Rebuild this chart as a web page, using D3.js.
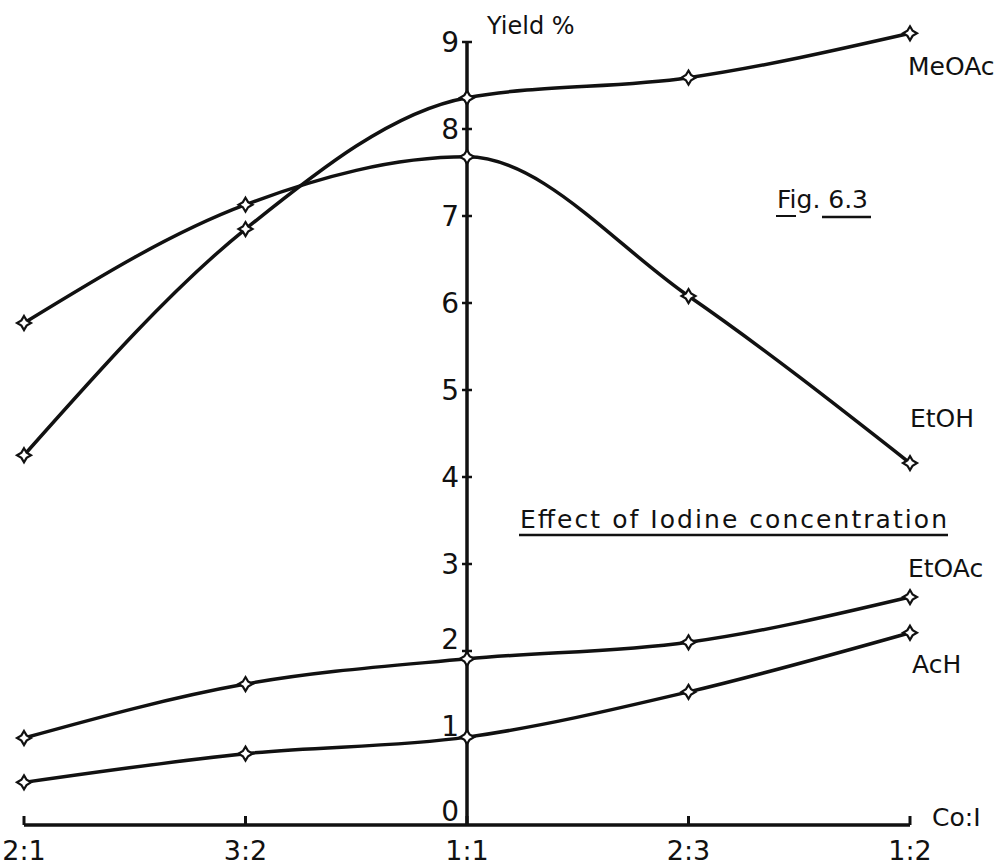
<!DOCTYPE html>
<meta charset="utf-8">
<style>
  body { margin: 0; background: #fff; }
  svg text { font-family: "DejaVu Sans", sans-serif; fill: #111; }
</style>
<body>
<script src="https://cdn.jsdelivr.net/npm/d3@7"></script>
<script>
// data
var ratios = ["2:1", "3:2", "1:1", "2:3", "1:2"];
var meoac = [4.25, 6.85, 8.36, 8.59, 9.10];
var etoh  = [5.77, 7.13, 7.68, 6.08, 4.16];
var etoac = [1.00, 1.62, 1.91, 2.10, 2.62];
var ach   = [0.49, 0.82, 1.01, 1.53, 2.21];
var yTicks = [0, 1, 2, 3, 4, 5, 6, 7, 8, 9];

var series = [
  {name: "MeOAc", values: meoac, lx: 908, ly: 75},
  {name: "EtOH",  values: etoh,  lx: 910, ly: 427},
  {name: "EtOAc", values: etoac, lx: 908, ly: 577},
  {name: "AcH",   values: ach,   lx: 912, ly: 673}
];

var width = 1004, height = 865;

var svg = d3.select("body").append("svg")
    .attr("width", width)
    .attr("height", height);

// scales
var x = d3.scalePoint().domain(ratios).range([24, 910]);
var y = d3.scaleLinear().domain([0, 9]).range([825, 42]);
var x0 = x("1:1");

// x axis (baseline with small upward ticks)
svg.append("line")
    .attr("x1", x("2:1")).attr("x2", x("1:2"))
    .attr("y1", y(0)).attr("y2", y(0))
    .attr("stroke", "#111").attr("stroke-width", 3.5);

svg.selectAll(".xtick")
    .data(ratios)
  .enter().append("line")
    .attr("x1", function(d) { return x(d); })
    .attr("x2", function(d) { return x(d); })
    .attr("y1", y(0)).attr("y2", y(0) - 9)
    .attr("stroke", "#111").attr("stroke-width", 3);

svg.selectAll(".xlabel")
    .data(ratios)
  .enter().append("text")
    .attr("x", function(d) { return x(d); })
    .attr("y", 860)
    .attr("text-anchor", "middle")
    .attr("font-size", 27)
    .text(function(d) { return d; });

svg.append("text")
    .attr("x", 932).attr("y", 826)
    .attr("font-size", 25)
    .text("Co:I");

// y axis drawn through the 1:1 column
svg.append("line")
    .attr("x1", x0).attr("x2", x0)
    .attr("y1", y(9)).attr("y2", y(0))
    .attr("stroke", "#111").attr("stroke-width", 3.5);

svg.selectAll(".ytick")
    .data(yTicks.slice(1))
  .enter().append("line")
    .attr("x1", x0 - 5).attr("x2", x0 + 5)
    .attr("y1", function(d) { return y(d); })
    .attr("y2", function(d) { return y(d); })
    .attr("stroke", "#111").attr("stroke-width", 2.5);

svg.selectAll(".ylabel")
    .data(yTicks)
  .enter().append("text")
    .attr("x", x0 - 8)
    .attr("y", function(d) {
      if (d === 0) return y(0) - 4;
      if (d <= 2) return y(d) - 2;
      return y(d) + 10;
    })
    .attr("text-anchor", "end")
    .attr("font-size", 28)
    .text(function(d) { return d; });

svg.append("text")
    .attr("x", 487).attr("y", 34)
    .attr("font-size", 24)
    .text("Yield %");

// curves
var line = d3.line()
    .x(function(d, i) { return x(ratios[i]); })
    .y(function(d) { return y(d); })
    .curve(d3.curveMonotoneX);

svg.selectAll(".curve")
    .data(series)
  .enter().append("path")
    .attr("d", function(s) { return line(s.values); })
    .attr("fill", "none")
    .attr("stroke", "#111")
    .attr("stroke-width", 3.5);

// four point star markers
var r = 7, a = 2.6;
var star = "M0," + (-r) + "L" + a + "," + (-a) + "L" + r + ",0L" + a + "," + a +
           "L0," + r + "L" + (-a) + "," + a + "L" + (-r) + ",0L" + (-a) + "," + (-a) + "Z";

series.forEach(function(s) {
  svg.selectAll(null)
      .data(s.values)
    .enter().append("path")
      .attr("d", star)
      .attr("transform", function(d, i) { return "translate(" + x(ratios[i]) + "," + y(d) + ")"; })
      .attr("fill", "#fff")
      .attr("stroke", "#111")
      .attr("stroke-width", 2.2);
});

// series names
svg.selectAll(".sname")
    .data(series)
  .enter().append("text")
    .attr("x", function(s) { return s.lx; })
    .attr("y", function(s) { return s.ly; })
    .attr("font-size", 25)
    .text(function(s) { return s.name; });

// title and figure number, underlined
svg.append("text")
    .attr("x", 520).attr("y", 528)
    .attr("font-size", 25)
    .attr("textLength", 427)
    .attr("lengthAdjust", "spacing")
    .text("Effect of Iodine concentration");
svg.append("line")
    .attr("x1", 519).attr("x2", 948)
    .attr("y1", 535).attr("y2", 535)
    .attr("stroke", "#111").attr("stroke-width", 2.5);

svg.append("text")
    .attr("x", 777).attr("y", 208)
    .attr("font-size", 25)
    .text("Fig. 6.3");
svg.append("line")
    .attr("x1", 776).attr("x2", 796)
    .attr("y1", 216).attr("y2", 216)
    .attr("stroke", "#111").attr("stroke-width", 2);
svg.append("line")
    .attr("x1", 822).attr("x2", 871)
    .attr("y1", 217).attr("y2", 217)
    .attr("stroke", "#111").attr("stroke-width", 2.5);
</script>
</body>
